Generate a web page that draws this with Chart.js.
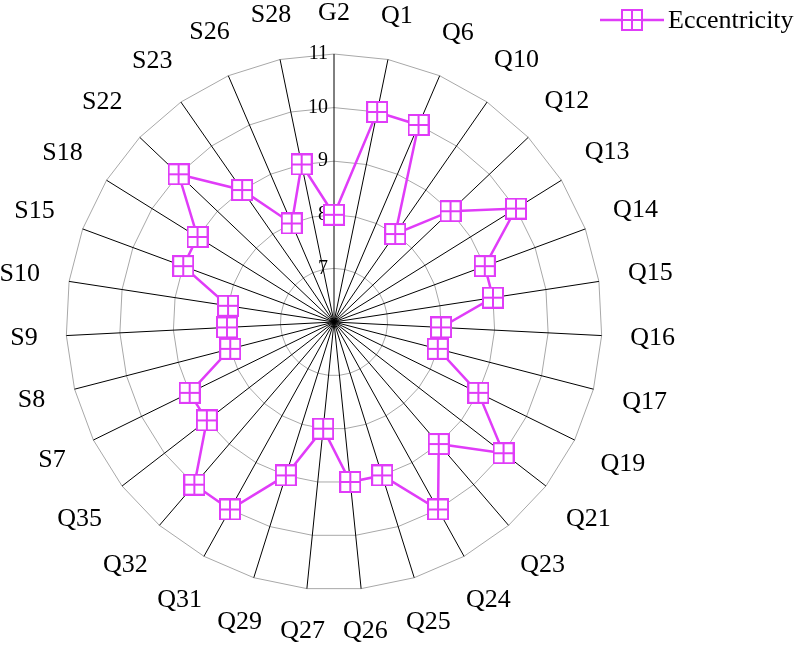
<!DOCTYPE html>
<html><head><meta charset="utf-8">
<script src="https://cdn.jsdelivr.net/npm/chart.js@4/dist/chart.umd.min.js"></script>
<style>html,body{margin:0;padding:0;background:#fff;} #wrap{width:800px;height:646px;}</style>
</head><body><div id="wrap"><canvas id="c" width="800" height="646"></canvas></div>
<script>
const categories = ['G2','Q1','Q6','Q10','Q12','Q13','Q14','Q15','Q16','Q17','Q19','Q21','Q23','Q24','Q25','Q26','Q27','Q29','Q31','Q32','Q35','S7','S8','S9','S10','S15','S18','S22','S23','S26','S28'];
const eccentricity = [8,10,10,8,9,10,9,9,8,8,9,10,9,10,9,9,8,9,10,10,9,9,8,8,8,9,9,10,9,8,9];
const seriesName = 'Eccentricity';
const tickValues = [7,8,9,10,11];
const scaleMin = 6;
const scaleMax = 11;

const COLOR = '#e03cf8';
const FONT = "'Liberation Serif', 'Times New Roman', serif";
const LABEL_PAD = 28;
const LABEL_SIZE = 26;

function makeMarker() {
  const s = 22;
  const c = document.createElement('canvas');
  c.width = s; c.height = s;
  const g = c.getContext('2d');
  g.fillStyle = '#fff';
  g.fillRect(1, 1, 20, 20);
  g.strokeStyle = COLOR;
  g.lineWidth = 2;
  g.strokeRect(1, 1, 20, 20);
  g.beginPath();
  g.moveTo(11, 1); g.lineTo(11, 21);
  g.moveTo(1, 11); g.lineTo(21, 11);
  g.stroke();
  return c;
}
const marker = makeMarker();

const tickPlugin = {
  id: 'ticksLeft',
  beforeDatasetsDraw(chart) {
    const r = chart.scales.r;
    const ctx = chart.ctx;
    ctx.save();
    ctx.font = '20px ' + FONT;
    ctx.fillStyle = '#000';
    ctx.textAlign = 'right';
    ctx.textBaseline = 'middle';
    tickValues.forEach(v => {
      const d = r.getDistanceFromCenterForValue(v);
      ctx.fillText(String(v), r.xCenter - 6, r.yCenter - d);
    });
    ctx.restore();
  }
};

const pointLabelPlugin = {
  id: 'outerLabels',
  afterDraw(chart) {
    const r = chart.scales.r;
    const ctx = chart.ctx;
    const labels = chart.data.labels;
    ctx.save();
    ctx.font = LABEL_SIZE + 'px ' + FONT;
    ctx.fillStyle = '#000';
    ctx.textAlign = 'center';
    ctx.textBaseline = 'middle';
    const outer = r.getDistanceFromCenterForValue(scaleMax) + LABEL_PAD;
    labels.forEach((lab, i) => {
      const a = r.getIndexAngle(i);
      const w = ctx.measureText(lab).width;
      const dist = outer + (w / 2) * Math.abs(Math.sin(a)) + (LABEL_SIZE / 2) * Math.abs(Math.cos(a));
      const p = r.getPointPosition(i, dist);
      ctx.fillText(lab, p.x, p.y);
    });
    ctx.restore();
  }
};

const legendPlugin = {
  id: 'lineLegend',
  afterDraw(chart) {
    const ctx = chart.ctx;
    const y = 20;
    ctx.save();
    ctx.strokeStyle = COLOR;
    ctx.lineWidth = 2.5;
    ctx.beginPath();
    ctx.moveTo(600, y); ctx.lineTo(664, y);
    ctx.stroke();
    ctx.drawImage(marker, 632 - 11, y - 11);
    ctx.font = '26px ' + FONT;
    ctx.fillStyle = '#000';
    ctx.textAlign = 'left';
    ctx.textBaseline = 'middle';
    ctx.fillText(chart.data.datasets[0].label, 668, y + 1);
    ctx.restore();
  }
};

new Chart(document.getElementById('c'), {
  type: 'radar',
  data: {
    labels: categories,
    datasets: [{
      label: seriesName,
      data: eccentricity,
      borderColor: COLOR,
      backgroundColor: 'rgba(0,0,0,0)',
      borderWidth: 2.5,
      fill: false,
      tension: 0,
      pointStyle: marker,
      pointRadius: 10,
      pointHoverRadius: 10
    }]
  },
  options: {
    responsive: false,
    animation: false,
    devicePixelRatio: 1,
    layout: { padding: { left: 66, right: 198, top: 54, bottom: 56 } },
    plugins: {
      legend: { display: false },
      tooltip: { enabled: false },
      title: { display: false }
    },
    scales: {
      r: {
        min: scaleMin,
        max: scaleMax,
        ticks: { display: false, stepSize: 1 },
        grid: { color: '#a8a8a8', lineWidth: 1 },
        angleLines: { color: '#000', lineWidth: 1 },
        pointLabels: { display: false }
      }
    }
  },
  plugins: [tickPlugin, pointLabelPlugin, legendPlugin]
});
</script>
</body></html>
